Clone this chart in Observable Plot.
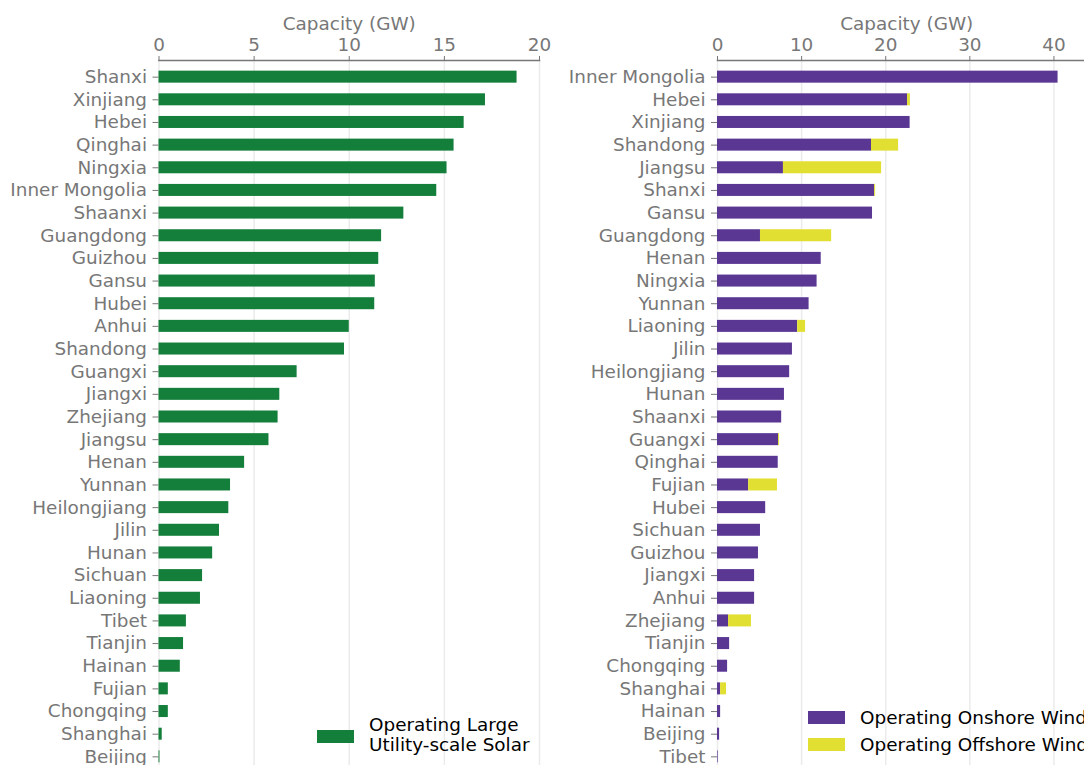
<!DOCTYPE html>
<html><head><meta charset="utf-8">
<script src="https://cdn.jsdelivr.net/npm/d3@7"></script>
<script src="https://cdn.jsdelivr.net/npm/@observablehq/plot@0.6"></script>
<style>
html,body{margin:0;padding:0;overflow:hidden;background:#fff;}
#wrap{position:relative;width:1084px;height:765px;overflow:hidden;font-family:"DejaVu Sans";}
.panel{position:absolute;top:0;}
.panel svg{max-width:none !important;}
.leg{position:absolute;font-size:18.4px;color:#000;line-height:20px;white-space:nowrap;font-family:"DejaVu Sans";}
.sw{position:absolute;width:37px;height:13px;}
</style></head><body>
<div id="wrap">
  <div id="left" class="panel" style="left:0px"></div>
  <div id="right" class="panel" style="left:560px"></div>
  <div class="sw" id="swSolar" style="left:317px;top:730px"></div>
  <div class="leg" id="lgSolar" style="left:369px;top:715px"></div>
  <div class="sw" id="swOn" style="left:808px;top:711px"></div>
  <div class="leg" id="lgOn" style="left:860px;top:708px"></div>
  <div class="sw" id="swOff" style="left:808px;top:738px"></div>
  <div class="leg" id="lgOff" style="left:860px;top:735px"></div>
</div>
<script>
// ---- data ----
const solarProvinces = ["Shanxi","Xinjiang","Hebei","Qinghai","Ningxia","Inner Mongolia","Shaanxi","Guangdong","Guizhou","Gansu","Hubei","Anhui","Shandong","Guangxi","Jiangxi","Zhejiang","Jiangsu","Henan","Yunnan","Heilongjiang","Jilin","Hunan","Sichuan","Liaoning","Tibet","Tianjin","Hainan","Fujian","Chongqing","Shanghai","Beijing"];
const solarGW = [18.82,17.16,16.04,15.51,15.14,14.6,12.87,11.7,11.55,11.37,11.34,10.0,9.75,7.26,6.35,6.26,5.78,4.5,3.76,3.67,3.18,2.82,2.29,2.18,1.44,1.29,1.12,0.49,0.49,0.17,0.05];

const windProvinces = ["Inner Mongolia","Hebei","Xinjiang","Shandong","Jiangsu","Shanxi","Gansu","Guangdong","Henan","Ningxia","Yunnan","Liaoning","Jilin","Heilongjiang","Hunan","Shaanxi","Guangxi","Qinghai","Fujian","Hubei","Sichuan","Guizhou","Jiangxi","Anhui","Zhejiang","Tianjin","Chongqing","Shanghai","Hainan","Beijing","Tibet"];
const onshoreGW  = [40.49,22.6,22.9,18.31,7.84,18.68,18.43,5.11,12.33,11.84,10.89,9.53,8.91,8.58,7.96,7.63,7.26,7.22,3.71,5.73,5.11,4.87,4.41,4.41,1.32,1.44,1.2,0.37,0.37,0.25,0.08];
const offshoreGW = [0,0.33,0,3.22,11.67,0.12,0,8.46,0,0,0,0.94,0,0,0,0,0.12,0,3.42,0,0,0,0,0,2.72,0,0,0.7,0,0,0];

const solarTicks = [0,5,10,15,20];
const windTicks = [0,10,20,30,40];
const seriesNames = ["Operating Onshore Wind","Operating Offshore Wind"];

// ---- style ----
const green = "#147f3b", purple = "#5b3794", yellow = "#e2df33";
const FS = "18.4px";
const baseStyle = {fontFamily:"DejaVu Sans", fontSize:FS, color:"#777", background:"transparent", overflow:"visible"};

const solarData = solarProvinces.map((p,i)=>({province:p, value:solarGW[i]}));
const windData = [];
windProvinces.forEach((p,i)=>{
  windData.push({province:p, type:seriesNames[0], value:onshoreGW[i]});
  windData.push({province:p, type:seriesNames[1], value:offshoreGW[i]});
});

function grid(ticks){
  return Plot.gridX(ticks, {stroke:"#ebebeb", strokeOpacity:1, strokeWidth:1.5});
}
function axes(ticks){
  return [
    Plot.axisX({anchor:"top", ticks, tickSize:5, tickPadding:5, label:"Capacity (GW)", labelAnchor:"center", labelArrow:"none", labelOffset:44, fontSize:FS}),
    Plot.axisY({tickSize:6, tickPadding:6, label:null, fontSize:FS}),
    Plot.frame({anchor:"top", stroke:"#777", strokeWidth:1.5})
  ];
}

const left = Plot.plot({
  width:560, height:780,
  marginLeft:158.5, marginRight:21, marginTop:60, marginBottom:7,
  style: baseStyle,
  x:{domain:[0,20]},
  y:{domain:solarProvinces, padding:0.47, round:false},
  marks:[
    grid(solarTicks),
    Plot.barX(solarData, {x:"value", y:"province", fill:green}),
    ...axes(solarTicks)
  ]
});
document.getElementById("left").appendChild(left);

const right = Plot.plot({
  width:545, height:780,
  marginLeft:157, marginRight:9.5, marginTop:60, marginBottom:7,
  style: baseStyle,
  x:{domain:[0,45]},
  y:{domain:windProvinces, padding:0.47, round:false},
  color:{domain:seriesNames, range:[purple, yellow]},
  marks:[
    grid(windTicks),
    Plot.barX(windData, {x:"value", y:"province", fill:"type"}),
    ...axes(windTicks)
  ]
});
document.getElementById("right").appendChild(right);

// legends
document.getElementById("swSolar").style.background = green;
document.getElementById("lgSolar").innerHTML = "Operating Large<br>Utility-scale Solar";
document.getElementById("swOn").style.background = purple;
document.getElementById("lgOn").textContent = seriesNames[0];
document.getElementById("swOff").style.background = yellow;
document.getElementById("lgOff").textContent = seriesNames[1];
</script>
</body></html>
